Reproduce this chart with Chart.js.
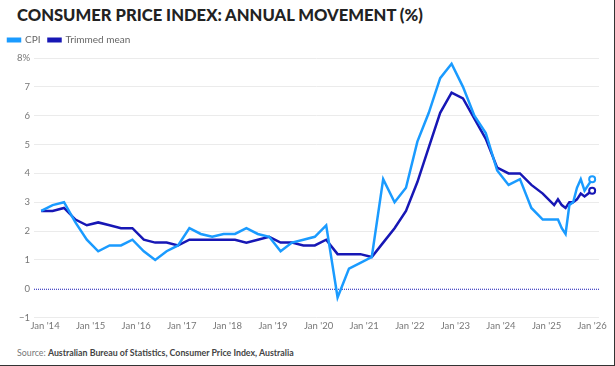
<!DOCTYPE html>
<html>
<head>
<meta charset="utf-8">
<script src="https://cdn.jsdelivr.net/npm/chart.js@4.4.1/dist/chart.umd.min.js"></script>
<style>
  body { margin: 0; background: #fff; font-family: Lato, "Open Sans", sans-serif; }
  #frame { position: relative; width: 614px; height: 365px; border-right: 1px solid #333; border-bottom: 1px solid #333; overflow: hidden; }
  #title { position: absolute; left: 17px; top: 5px; font-size: 16.6px; font-weight: 900; color: #222; white-space: nowrap; }
  #box { position: absolute; left: 0; top: 27px; width: 614px; height: 308px; }
  #source { position: absolute; left: 17px; top: 347px; font-size: 8.8px; color: #777; white-space: nowrap; }
  #source b { color: #444; }
</style>
</head>
<body>
<div id="frame">
  <div id="title">CONSUMER PRICE INDEX: ANNUAL MOVEMENT (%)</div>
  <div id="box"><canvas id="cpiChart"></canvas></div>
  <div id="source">Source: <b>Australian Bureau of Statistics, Consumer Price Index, Australia</b></div>
</div>
<script>
  // quarterly to Mar 2025, monthly after that
  const dates = [
    '2013-12',
    '2014-03', '2014-06', '2014-09', '2014-12',
    '2015-03', '2015-06', '2015-09', '2015-12',
    '2016-03', '2016-06', '2016-09', '2016-12',
    '2017-03', '2017-06', '2017-09', '2017-12',
    '2018-03', '2018-06', '2018-09', '2018-12',
    '2019-03', '2019-06', '2019-09', '2019-12',
    '2020-03', '2020-06', '2020-09', '2020-12',
    '2021-03', '2021-06', '2021-09', '2021-12',
    '2022-03', '2022-06', '2022-09', '2022-12',
    '2023-03', '2023-06', '2023-09', '2023-12',
    '2024-03', '2024-06', '2024-09', '2024-12',
    '2025-03', '2025-04', '2025-05', '2025-06', '2025-07', '2025-08',
    '2025-09', '2025-10', '2025-11', '2025-12', '2026-01'
  ];

  const cpi = [
    2.7,
    2.9, 3.0, 2.3, 1.7,
    1.3, 1.5, 1.5, 1.7,
    1.3, 1.0, 1.3, 1.5,
    2.1, 1.9, 1.8, 1.9,
    1.9, 2.1, 1.9, 1.8,
    1.3, 1.6, 1.7, 1.8,
    2.2, -0.3, 0.7, 0.9,
    1.1, 3.8, 3.0, 3.5,
    5.1, 6.1, 7.3, 7.8,
    7.0, 6.0, 5.4, 4.1,
    3.6, 3.8, 2.8, 2.4,
    2.4, 2.4, 2.1, 1.9, 2.9, 3.0,
    3.5, 3.8, 3.4, 3.6, 3.8
  ];

  const trimmedMean = [
    2.7,
    2.7, 2.8, 2.4, 2.2,
    2.3, 2.2, 2.1, 2.1,
    1.7, 1.6, 1.6, 1.5,
    1.7, 1.7, 1.7, 1.7,
    1.7, 1.6, 1.7, 1.8,
    1.6, 1.6, 1.5, 1.5,
    1.7, 1.2, 1.2, 1.2,
    1.1, 1.6, 2.1, 2.7,
    3.7, 4.9, 6.1, 6.8,
    6.6, 5.9, 5.2, 4.2,
    4.0, 4.0, 3.6, 3.3,
    2.9, 3.1, 2.9, 2.8, 3.0, 3.0,
    3.1, 3.3, 3.2, 3.3, 3.4
  ];

  const xTickLabels = ["Jan '14", "Jan '15", "Jan '16", "Jan '17", "Jan '18", "Jan '19", "Jan '20",
    "Jan '21", "Jan '22", "Jan '23", "Jan '24", "Jan '25", "Jan '26"];
  const yTicks = [-1, 0, 1, 2, 3, 4, 5, 6, 7, 8];

  const cpiColor = '#1a9bff';
  const tmColor = '#1717b5';

  // months since Jan 2014
  function monthIndex(d) {
    const p = d.split('-');
    return (+p[0] - 2014) * 12 + (+p[1] - 1);
  }

  function points(values) {
    return values.map(function(v, i) { return { x: monthIndex(dates[i]), y: v }; });
  }

  function lastOnly(size) {
    return function(ctx) { return ctx.dataIndex === dates.length - 1 ? size : 0; };
  }

  const zeroLine = {
    id: 'zeroLine',
    beforeDatasetsDraw: function(chart) {
      const y = chart.scales.y.getPixelForValue(0);
      const c = chart.ctx;
      c.save();
      c.strokeStyle = tmColor;
      c.lineWidth = 1;
      c.setLineDash([1, 1]);
      c.beginPath();
      c.moveTo(chart.chartArea.left, y + 0.5);
      c.lineTo(chart.chartArea.right, y + 0.5);
      c.stroke();
      c.restore();
    }
  };

  // a bit more room under the legend
  const legendGap = {
    id: 'legendGap',
    beforeInit: function(chart) {
      const fit = chart.legend.fit;
      chart.legend.fit = function() {
        fit.call(this);
        this.height += 3;
      };
    }
  };

  const config = {
    type: 'line',
    data: {
      datasets: [{
        label: 'CPI',
        data: points(cpi),
        borderColor: cpiColor,
        backgroundColor: cpiColor,
        borderWidth: 2.5,
        pointRadius: lastOnly(3),
        pointBackgroundColor: '#fff',
        pointBorderColor: cpiColor,
        pointBorderWidth: 2,
        tension: 0
      }, {
        label: 'Trimmed mean',
        data: points(trimmedMean),
        borderColor: tmColor,
        backgroundColor: tmColor,
        borderWidth: 2.5,
        pointRadius: lastOnly(3),
        pointBackgroundColor: '#fff',
        pointBorderColor: tmColor,
        pointBorderWidth: 2,
        tension: 0
      }]
    },
    options: {
      responsive: true,
      maintainAspectRatio: false,
      animation: false,
      layout: { padding: { left: 0, right: 15, top: 0, bottom: 0 } },
      plugins: {
        legend: {
          position: 'top',
          align: 'start',
          labels: {
            boxWidth: 12,
            boxHeight: 2.5,
            color: '#666',
            padding: 8,
            font: { family: 'Lato', size: 10 }
          }
        },
        tooltip: { enabled: false }
      },
      scales: {
        x: {
          type: 'linear',
          min: -2.9,
          max: 145.8,
          afterBuildTicks: function(scale) {
            scale.ticks = xTickLabels.map(function(l, i) { return { value: i * 12 }; });
          },
          ticks: {
            autoSkip: false,
            maxRotation: 0,
            color: '#777',
            font: { family: 'Lato', size: 9.5 },
            padding: 3,
            callback: function(v) { return xTickLabels[v / 12]; }
          },
          grid: { display: false, drawTicks: false },
          border: { display: false }
        },
        y: {
          min: -1,
          max: 8,
          afterBuildTicks: function(scale) {
            scale.ticks = yTicks.map(function(v) { return { value: v }; });
          },
          afterFit: function(scale) { scale.width = 34; },
          ticks: {
            color: '#777',
            font: { family: 'Lato', size: 9.5 },
            padding: 4,
            callback: function(v) {
              if (v === 8) return '8%';
              if (v < 0) return '\u2212' + Math.abs(v);
              return v;
            }
          },
          grid: {
            drawTicks: false,
            color: function(ctx) { return ctx.tick && ctx.tick.value === 0 ? 'rgba(0,0,0,0)' : '#ebebeb'; }
          },
          border: { display: false }
        }
      }
    },
    plugins: [zeroLine, legendGap]
  };

  window.onload = function() {
    const ctx = document.getElementById('cpiChart').getContext('2d');
    new Chart(ctx, config);
  };
</script>
</body>
</html>
